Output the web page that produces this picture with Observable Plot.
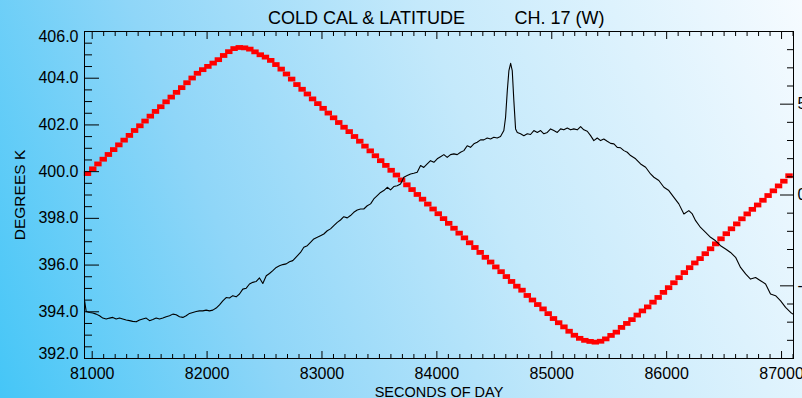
<!DOCTYPE html>
<html>
<head>
<meta charset="utf-8">
<script src="https://cdn.jsdelivr.net/npm/d3@7"></script>
<script src="https://cdn.jsdelivr.net/npm/@observablehq/plot@0.6"></script>
<style>
  html, body { margin: 0; padding: 0; }
  body {
    width: 802px; height: 398px; overflow: hidden;
    background: linear-gradient(68deg, #45c6f7 0%, #8fd6f8 30%, #c4e9fb 60%, #f6fbff 100%);
  }
  svg { display: block; }
</style>
</head>
<body>
<script>
// ---- Latitude (red markers), right axis, degrees ----
const latTimes = [80959,81005,81050,81096,81141,81187,81232,81278,81324,81369,81415,81460,81506,81551,81597,81643,81688,81734,81779,81825,81870,81916,81962,82007,82053,82098,82144,82189,82235,82280,82326,82372,82417,82463,82508,82554,82599,82645,82691,82736,82782,82827,82873,82918,82964,83010,83055,83101,83146,83192,83237,83283,83329,83374,83420,83465,83511,83556,83602,83648,83693,83739,83784,83830,83875,83921,83967,84012,84058,84103,84149,84194,84240,84285,84331,84377,84422,84468,84513,84559,84605,84650,84696,84741,84787,84832,84878,84924,84969,85015,85060,85106,85151,85197,85243,85288,85334,85379,85425,85470,85516,85562,85607,85653,85698,85744,85789,85835,85881,85926,85972,86017,86063,86108,86154,86200,86245,86291,86336,86382,86427,86473,86519,86564,86610,86655,86701,86746,86792,86838,86883,86929,86974,87020,87065];
const latitude = [11.8,14.4,17.1,19.7,22.3,25.0,27.6,30.2,32.8,35.5,38.1,40.7,43.4,46.0,48.6,51.3,53.9,56.5,59.1,61.8,64.4,67.0,69.0,70.8,72.6,74.5,76.8,78.9,80.6,81.2,81.0,80.3,78.8,77.2,75.9,74.1,71.8,69.3,66.6,63.8,60.8,58.2,55.6,52.9,50.3,47.7,45.1,42.5,39.9,37.3,34.9,32.2,29.6,26.9,24.3,21.6,18.9,16.3,13.6,11.0,8.3,5.6,3.0,0.3,-2.3,-5.0,-7.7,-10.3,-13.0,-15.6,-18.3,-21.0,-23.6,-26.3,-28.9,-31.6,-34.3,-36.9,-39.6,-42.2,-44.9,-47.6,-50.2,-52.4,-55.3,-57.8,-60.3,-62.7,-65.3,-68.0,-70.3,-72.6,-75.0,-77.2,-78.9,-80.0,-80.6,-81.0,-80.5,-79.2,-77.3,-75.5,-72.9,-70.7,-68.6,-66.1,-63.8,-61.6,-59.0,-56.4,-53.6,-51.0,-48.3,-45.5,-42.7,-40.0,-37.4,-35.0,-32.3,-29.6,-26.9,-24.1,-21.3,-18.6,-15.9,-13.1,-10.4,-7.9,-5.5,-2.9,-0.3,2.3,5.0,7.6,10.6];

// ---- Cold cal (black line), left axis, degrees K ----
const calTimes = [80933,80948,80976,81005,81035,81064,81092,81122,81151,81179,81209,81238,81266,81296,81325,81353,81383,81412,81440,81470,81499,81528,81557,81586,81615,81644,81673,81702,81731,81760,81789,81818,81847,81876,81905,81934,81963,81992,82021,82050,82079,82108,82137,82166,82195,82224,82253,82282,82311,82341,82369,82398,82428,82456,82485,82515,82543,82572,82602,82630,82659,82689,82717,82746,82813,82842,82872,82900,82929,82959,82987,83016,83046,83074,83103,83133,83161,83190,83220,83248,83277,83307,83336,83364,83394,83423,83451,83481,83510,83538,83568,83597,83625,83655,83684,83712,83742,83771,83799,83829,83858,83886,83916,83945,83974,84003,84032,84061,84090,84119,84148,84177,84206,84235,84264,84293,84322,84351,84380,84409,84438,84467,84496,84525,84554,84583,84598,84613,84627,84642,84656,84670,84685,84700,84728,84757,84787,84815,84844,84874,84903,84931,84961,84990,85018,85048,85077,85105,85135,85164,85192,85222,85251,85279,85309,85338,85366,85396,85425,85453,85483,85512,85541,85570,85599,85628,85657,85686,85730,85773,85817,85860,85889,85932,85976,86019,86063,86106,86150,86193,86223,86252,86295,86339,86382,86426,86469,86513,86556,86600,86643,86687,86730,86774,86817,86861,86904,86948,86992,87035,87079,87100];
const calK = [394.50,394.01,393.97,393.95,393.90,393.83,393.73,393.69,393.73,393.76,393.69,393.73,393.69,393.65,393.62,393.59,393.57,393.65,393.69,393.73,393.62,393.67,393.73,393.69,393.73,393.79,393.83,393.90,393.87,393.79,393.76,393.83,393.93,393.97,394.01,394.04,394.04,394.07,394.04,394.07,394.16,394.30,394.47,394.61,394.59,394.69,394.64,394.76,394.97,395.01,395.19,395.26,395.30,395.45,395.21,395.54,395.64,395.76,395.90,395.97,396.02,396.05,396.14,396.19,396.54,396.76,396.83,396.97,397.12,397.19,397.26,397.33,397.47,397.55,397.69,397.83,397.93,398.07,398.02,398.12,398.26,398.36,398.40,398.40,398.54,398.62,398.83,398.97,399.11,399.19,399.33,399.22,399.36,399.40,399.47,399.76,399.83,399.90,399.93,399.97,400.26,400.18,400.33,400.47,400.40,400.55,400.64,400.73,400.61,400.73,400.76,400.73,400.83,400.90,401.11,401.04,401.19,401.26,401.36,401.36,401.44,401.40,401.47,401.44,401.50,401.76,402.33,403.47,404.33,404.64,404.33,403.04,401.83,401.68,401.62,401.54,401.62,401.59,401.76,401.68,401.76,401.62,401.68,401.83,401.76,401.68,401.83,401.79,401.87,401.79,401.83,401.79,401.93,401.79,401.73,401.54,401.33,401.44,401.33,401.40,401.30,401.21,401.19,401.04,401.02,400.90,400.83,400.69,400.55,400.33,400.19,399.90,399.76,399.62,399.33,399.19,398.90,398.62,398.19,398.33,398.19,397.90,397.61,397.40,397.19,397.04,396.83,396.69,396.54,396.33,395.90,395.62,395.40,395.47,395.33,395.19,394.76,394.69,394.47,394.19,393.97,393.90];

// ---- Axes ----
const xMajorTicks = [81000, 82000, 83000, 84000, 85000, 86000, 87000];
const xMinorTicks = d3.range(81000, 87101, 100).filter(d => d % 1000 !== 0);
const yMajorTicks = [392, 394, 396, 398, 400, 402, 404, 406];
const yMinorTicks = d3.range(392.5, 406, 0.5).filter(d => d % 2 !== 0);
const latMajorTicks = [-50, 0, 50];
const latMinorTicks = [-80, -70, -60, -40, -30, -20, -10, 10, 20, 30, 40, 60, 70, 80];

const titleLeft = "COLD CAL & LATITUDE";
const titleRight = "CH. 17 (W)";
const yLabel = "DEGREES K";
const xLabel = "SECONDS OF DAY";

// latitude [-90, 90] shares the vertical extent of the left axis [392, 406]
const latToK = lat => 392 + (lat + 90) * 14 / 180;
const kToLat = k => (k - 392) * 180 / 14 - 90;

const redData = latTimes.map((t, i) => ({t, lat: latitude[i]}));
const calData = calTimes.map((t, i) => ({t, k: calK[i]}));

const dash = { draw(ctx) { ctx.rect(-3.7, -2.4, 7.4, 4.8); } };
const font = "'Liberation Sans', Arial, Helvetica, sans-serif";

const chart = Plot.plot({
  width: 802,
  height: 398,
  marginLeft: 84,
  marginRight: 9,
  marginTop: 31,
  marginBottom: 40,
  style: {background: "transparent", fontFamily: font, fontSize: "16px", color: "#000", overflow: "visible"},
  x: {domain: [80933, 87104], axis: null},
  y: {domain: [392, 406], axis: null},
  marks: [
    Plot.dot(redData, {x: "t", y: d => latToK(d.lat), symbol: dash, fill: "#ff0000", stroke: "none"}),
    Plot.line(calData, {x: "t", y: "k", stroke: "#000", strokeWidth: 1.1}),
    Plot.frame({stroke: "#000", strokeWidth: 1}),
    // bottom axis
    Plot.axisX({anchor: "bottom", ticks: xMinorTicks, tickSize: -4, fill: "none", label: null}),
    Plot.axisX({anchor: "bottom", ticks: xMajorTicks, tickSize: -7, fill: "none", label: null}),
    Plot.axisX({anchor: "bottom", ticks: xMajorTicks, tickSize: 0, tickPadding: 9, tickFormat: d => String(d), fontSize: 16, label: null}),
    // top axis
    Plot.axisX({anchor: "top", ticks: xMinorTicks, tickSize: -4, fill: "none", label: null}),
    Plot.axisX({anchor: "top", ticks: xMajorTicks, tickSize: -7, fill: "none", label: null}),
    // left axis
    Plot.axisY({anchor: "left", ticks: yMinorTicks, tickSize: -8, fill: "none", label: null}),
    Plot.axisY({anchor: "left", ticks: yMajorTicks, tickSize: -15, fill: "none", label: null}),
    Plot.axisY({anchor: "left", ticks: yMajorTicks.filter(d => d !== 392 && d !== 406), tickSize: 0, tickPadding: 6, tickFormat: d3.format(".1f"), fontSize: 16, label: null}),
    Plot.axisY({anchor: "left", ticks: [406], tickSize: 0, tickPadding: 6, tickFormat: d3.format(".1f"), fontSize: 16, dy: 5, label: null}),
    Plot.axisY({anchor: "left", ticks: [392], tickSize: 0, tickPadding: 6, tickFormat: d3.format(".1f"), fontSize: 16, dy: -5, label: null}),
    // right axis (latitude)
    Plot.axisY({anchor: "right", ticks: latMinorTicks.map(latToK), tickSize: -7, fill: "none", label: null}),
    Plot.axisY({anchor: "right", ticks: latMajorTicks.map(latToK), tickSize: -14, fill: "none", label: null}),
    Plot.axisY({anchor: "right", ticks: latMajorTicks.map(latToK), tickSize: 0, tickPadding: 4, tickFormat: d => String(Math.round(kToLat(d))), fontSize: 16, label: null}),
    // titles
    Plot.text([titleLeft], {frameAnchor: "top-left", dx: 282, dy: -8, textAnchor: "middle", lineAnchor: "bottom", fontSize: 18, fill: "#000"}),
    Plot.text([titleRight], {frameAnchor: "top-left", dx: 475, dy: -8, textAnchor: "middle", lineAnchor: "bottom", fontSize: 18, fill: "#000"}),
    Plot.text([yLabel], {frameAnchor: "left", dx: -60, rotate: -90, textAnchor: "middle", lineAnchor: "bottom", fontSize: 15.5, fill: "#000"}),
    Plot.text([xLabel], {frameAnchor: "bottom", dy: 38, textAnchor: "middle", lineAnchor: "bottom", fontSize: 14.5, fill: "#000"})
  ]
});
document.body.append(chart);
</script>
</body>
</html>
